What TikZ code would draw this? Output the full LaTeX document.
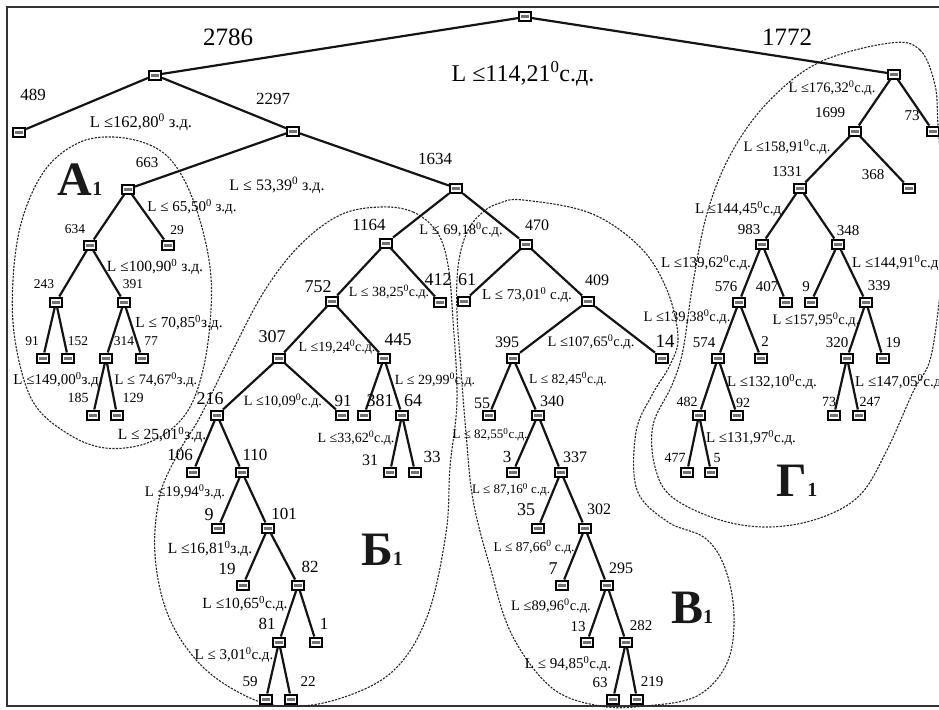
\documentclass[tikz,border=0pt]{standalone}
\usepackage{fontspec}
\setmainfont{Liberation Serif}
\newcommand{\dg}{\textsuperscript{0}}
\tikzset{
  box/.style={draw=black, line width=2pt, fill=white, minimum width=12pt, minimum height=9pt, inner sep=0pt,
    path picture={\fill[black!55] ([xshift=-4pt,yshift=-1.5pt]path picture bounding box.center) rectangle ([xshift=4pt,yshift=1.5pt]path picture bounding box.center);}},
  edge/.style={line width=2.2pt, black!92},
  zone/.style={dashed, dash pattern=on 2.2pt off 1.3pt, line width=1.1pt, black!85},
  f/.style={font=\fontsize{#1}{#1}\selectfont, inner sep=0pt, text=black},
  big/.style={inner sep=0pt, anchor=base, text=black!90},
  frame/.style={line width=2pt, black!80}
}
\newcommand{\lab}[4]{\node[f=#1] (#2) at (#3) {#4};}
\begin{document}
\begin{tikzpicture}[x=1pt,y=-1pt]
\useasboundingbox (0,0) rectangle (939,709);
\begin{scope}
\clip (0,0) rectangle (939,709);
\fill[white] (0,0) rectangle (939,709);
\draw[frame] (950,7) -- (7,7) -- (7,706) -- (950,706);

% ---- dashed zones
\draw[zone] plot[smooth cycle, tension=0.6] coordinates {(113,137) (150,145) (175,165) (195,205) (209,260) (211,310) (203,370) (185,415) (150,442) (105,448) (65,432) (32,400) (15,340) (13,280) (22,220) (45,170) (78,143)};
\draw[zone] plot[smooth cycle, tension=0.6] coordinates {(380,207) (413,212) (437,232) (448,265) (453,320) (457,400) (450,467) (446,533) (427,617) (392,672) (335,700) (280,706) (238,692) (198,662) (168,615) (155,555) (160,495) (180,450) (200,417) (233,350) (265,290) (300,245) (340,215)};
\draw[zone] plot[smooth cycle, tension=0.6] coordinates {(523,200) (590,213) (640,247) (667,290) (678,337) (670,365) (652,395) (636,432) (637,490) (668,522) (705,538) (725,568) (734,615) (727,663) (697,696) (645,706) (600,706) (552,688) (512,635) (490,567) (473,500) (466,433) (461,370) (457,313) (458,267) (467,232) (483,212) (500,203)};
\draw[zone] plot[smooth cycle, tension=0.6] coordinates {(890,43) (920,50) (935,85) (938,125) (943,200) (941,270) (939,303) (930,360) (913,392) (887,450) (860,495) (820,518) (770,527) (720,520) (672,497) (655,467) (653,425) (672,385) (683,350) (693,283) (708,210) (733,150) (770,100) (820,62)};

% ---- nodes
\node[box] (r) at (525,17) {};
\node[box] (a) at (155,75) {};
\node[box] (l489) at (19,132) {};
\node[box] (b) at (293,131) {};
\node[box] (c663) at (128,189) {};
\node[box] (c634) at (90,245) {};
\node[box] (l29) at (168,245) {};
\node[box] (c243) at (56,302) {};
\node[box] (c391) at (124,302) {};
\node[box] (l91) at (43,358) {};
\node[box] (l152) at (68,358) {};
\node[box] (c314) at (106,358) {};
\node[box] (l77) at (142,358) {};
\node[box] (l185) at (93,415) {};
\node[box] (l129) at (117,415) {};
\node[box] (d1634) at (456,188) {};
\node[box] (d1164) at (386,243) {};
\node[box] (l412) at (440,302) {};
\node[box] (d752) at (332,301) {};
\node[box] (d307) at (279,358) {};
\node[box] (d445) at (384,358) {};
\node[box] (d216) at (217,415) {};
\node[box] (l91b) at (342,415) {};
\node[box] (l381) at (364,415) {};
\node[box] (d64) at (402,415) {};
\node[box] (l31) at (390,472) {};
\node[box] (l33) at (415,472) {};
\node[box] (l106) at (193,472) {};
\node[box] (d110) at (242,472) {};
\node[box] (l9a) at (218,528) {};
\node[box] (d101) at (268,528) {};
\node[box] (l19a) at (243,585) {};
\node[box] (d82) at (298,585) {};
\node[box] (d81) at (279,642) {};
\node[box] (l1) at (316,642) {};
\node[box] (l59) at (266,699) {};
\node[box] (l22) at (291,699) {};
\node[box] (e470) at (526,244) {};
\node[box] (l61) at (464,301) {};
\node[box] (e409) at (588,301) {};
\node[box] (e395) at (513,358) {};
\node[box] (l14) at (662,358) {};
\node[box] (l55) at (489,415) {};
\node[box] (e340) at (538,415) {};
\node[box] (l3) at (513,472) {};
\node[box] (e337) at (561,472) {};
\node[box] (l35) at (538,528) {};
\node[box] (e302) at (585,528) {};
\node[box] (l7) at (562,585) {};
\node[box] (e295) at (607,585) {};
\node[box] (l13) at (587,642) {};
\node[box] (e282) at (626,642) {};
\node[box] (l63) at (613,699) {};
\node[box] (l219) at (637,699) {};
\node[box] (f1772) at (894,74) {};
\node[box] (f1699) at (855,131) {};
\node[box] (l73) at (933,131) {};
\node[box] (f1331) at (800,188) {};
\node[box] (l368) at (909,188) {};
\node[box] (f983) at (762,244) {};
\node[box] (f348) at (838,244) {};
\node[box] (f576) at (739,302) {};
\node[box] (l407) at (786,302) {};
\node[box] (l9b) at (811,302) {};
\node[box] (f339) at (866,302) {};
\node[box] (f574) at (718,358) {};
\node[box] (l2) at (761,358) {};
\node[box] (f320) at (847,358) {};
\node[box] (l19b) at (883,358) {};
\node[box] (f482) at (699,415) {};
\node[box] (l92) at (737,415) {};
\node[box] (l73b) at (834,415) {};
\node[box] (l247) at (859,415) {};
\node[box] (l477) at (687,472) {};
\node[box] (l5) at (711,472) {};

% ---- edges
\draw[edge] (r) -- (a); \draw[edge] (r) -- (f1772);
\draw[edge] (a) -- (l489); \draw[edge] (a) -- (b);
\draw[edge] (b) -- (c663); \draw[edge] (b) -- (d1634);
\draw[edge] (c663) -- (c634); \draw[edge] (c663) -- (l29);
\draw[edge] (c634) -- (c243); \draw[edge] (c634) -- (c391);
\draw[edge] (c243) -- (l91); \draw[edge] (c243) -- (l152);
\draw[edge] (c391) -- (c314); \draw[edge] (c391) -- (l77);
\draw[edge] (c314) -- (l185); \draw[edge] (c314) -- (l129);
\draw[edge] (d1634) -- (d1164); \draw[edge] (d1634) -- (e470);
\draw[edge] (d1164) -- (d752); \draw[edge] (d1164) -- (l412);
\draw[edge] (d752) -- (d307); \draw[edge] (d752) -- (d445);
\draw[edge] (d307) -- (d216); \draw[edge] (d307) -- (l91b);
\draw[edge] (d445) -- (l381); \draw[edge] (d445) -- (d64);
\draw[edge] (d64) -- (l31); \draw[edge] (d64) -- (l33);
\draw[edge] (d216) -- (l106); \draw[edge] (d216) -- (d110);
\draw[edge] (d110) -- (l9a); \draw[edge] (d110) -- (d101);
\draw[edge] (d101) -- (l19a); \draw[edge] (d101) -- (d82);
\draw[edge] (d82) -- (d81); \draw[edge] (d82) -- (l1);
\draw[edge] (d81) -- (l59); \draw[edge] (d81) -- (l22);
\draw[edge] (e470) -- (l61); \draw[edge] (e470) -- (e409);
\draw[edge] (e409) -- (e395); \draw[edge] (e409) -- (l14);
\draw[edge] (e395) -- (l55); \draw[edge] (e395) -- (e340);
\draw[edge] (e340) -- (l3); \draw[edge] (e340) -- (e337);
\draw[edge] (e337) -- (l35); \draw[edge] (e337) -- (e302);
\draw[edge] (e302) -- (l7); \draw[edge] (e302) -- (e295);
\draw[edge] (e295) -- (l13); \draw[edge] (e295) -- (e282);
\draw[edge] (e282) -- (l63); \draw[edge] (e282) -- (l219);
\draw[edge] (f1772) -- (f1699); \draw[edge] (f1772) -- (l73);
\draw[edge] (f1699) -- (f1331); \draw[edge] (f1699) -- (l368);
\draw[edge] (f1331) -- (f983); \draw[edge] (f1331) -- (f348);
\draw[edge] (f983) -- (f576); \draw[edge] (f983) -- (l407);
\draw[edge] (f348) -- (l9b); \draw[edge] (f348) -- (f339);
\draw[edge] (f576) -- (f574); \draw[edge] (f576) -- (l2);
\draw[edge] (f339) -- (f320); \draw[edge] (f339) -- (l19b);
\draw[edge] (f574) -- (f482); \draw[edge] (f574) -- (l92);
\draw[edge] (f320) -- (l73b); \draw[edge] (f320) -- (l247);
\draw[edge] (f482) -- (l477); \draw[edge] (f482) -- (l5);

% ---- top labels
\lab{25}{t2786}{228,37}{2786}
\lab{25}{t1772}{787,37}{1772}
\lab{24}{tL11421}{523,74}{L ≤114,21\dg с.д.}
\lab{17}{t489}{33,95}{489}
\lab{17}{t2297}{273,99}{2297}
\lab{16.5}{tL16280}{141,122}{L ≤162,80\dg\ з.д.}
\lab{17}{t1634}{435,159}{1634}
\lab{16}{tL5339}{277,185}{L ≤ 53,39\dg\ з.д.}

% ---- A1
\lab{15}{t663}{147,163}{663}
\lab{15}{tL6550}{192,207}{L ≤ 65,50\dg\ з.д.}
\lab{13.5}{t634}{75,229}{634}
\lab{13.5}{t29}{177,230}{29}
\lab{15.5}{tL10090}{155,267}{L ≤100,90\dg\ з.д.}
\lab{13.5}{t243}{44,284}{243}
\lab{13.5}{t391}{133,284}{391}
\lab{15.3}{tL7085}{179,323}{L ≤ 70,85\dg з.д.}
\lab{13.5}{t91}{32,341}{91}
\lab{13.5}{t152}{78,341}{152}
\lab{13.5}{t314}{124,341}{314}
\lab{13.5}{t77}{151,341}{77}
\lab{15}{tL14900}{58,380}{L ≤149,00\dg з.д.}
\lab{14.5}{tL7467}{156,380}{L ≤ 74,67\dg з.д.}
\lab{14}{t185}{78,398}{185}
\lab{14}{t129}{133,398}{129}
\lab{15.5}{tL2501}{162,435}{L ≤ 25,01\dg з.д.}
\node[big] (A1) at (80,195) {{\fontsize{48}{48}\selectfont\bfseries А}{\fontsize{20}{20}\selectfont\bfseries 1}};

% ---- B1
\lab{17}{t1164}{369,225}{1164}
\lab{14.5}{tL6918}{461,230}{L ≤ 69,18\dg с.д.}
\lab{18}{t752}{318,287}{752}
\lab{14}{tL3825}{389,292}{L ≤ 38,25\dg с.д.}
\lab{18}{t412}{438,280}{412}
\lab{18}{t61}{467,280}{61}
\lab{18}{t307}{272,337}{307}
\lab{14}{tL1924}{337,347}{L ≤19,24\dg с.д.}
\lab{18}{t445}{398,340}{445}
\lab{14}{tL2999}{435,380}{L ≤ 29,99\dg с.д.}
\lab{18}{t216}{210,399}{216}
\lab{14.2}{tL1009}{283,401}{L ≤10,09\dg с.д.}
\lab{17}{t91b}{343,401}{91}
\lab{18}{t381}{380,401}{381}
\lab{18}{t64}{413,401}{64}
\lab{14}{tL3362}{356,438}{L ≤33,62\dg с.д.}
\lab{16}{t31}{370,460}{31}
\lab{17}{t33}{432,457}{33}
\lab{17}{t106}{180,455}{106}
\lab{17}{t110}{255,455}{110}
\lab{14.7}{tL1994}{185,492}{L ≤19,94\dg з.д.}
\lab{18}{t9a}{209,515}{9}
\lab{17}{t101}{284,514}{101}
\lab{15.5}{tL1681}{210,549}{L ≤16,81\dg з.д.}
\lab{17}{t19a}{227,569}{19}
\lab{17}{t82}{310,567}{82}
\lab{15.5}{tL1065}{245,604}{L ≤10,65\dg с.д.}
\lab{17}{t81}{267,624}{81}
\lab{17}{t1}{324,624}{1}
\lab{15}{tL301}{234,655}{L ≤ 3,01\dg с.д.}
\lab{15}{t59}{250,682}{59}
\lab{15}{t22}{308,682}{22}
\node[big] (B1) at (382,565) {{\fontsize{48}{48}\selectfont\bfseries Б}{\fontsize{20}{20}\selectfont\bfseries 1}};

% ---- V1
\lab{16}{t470}{537,225}{470}
\lab{15}{tL7301}{527,295}{L ≤ 73,01\dg\ с.д.}
\lab{16}{t409}{597,280}{409}
\lab{16}{t395}{507,342}{395}
\lab{14.5}{tL10765}{591,342}{L ≤107,65\dg с.д.}
\lab{19}{t14}{665,341}{14}
\lab{13.5}{tL8245}{568,379}{L ≤ 82,45\dg с.д.}
\lab{16}{t55}{482,403}{55}
\lab{16}{t340}{552,401}{340}
\lab{13}{tL8255}{490,435}{L ≤ 82,55\dg с.д.}
\lab{17}{t3}{507,457}{3}
\lab{16}{t337}{575,457}{337}
\lab{13}{tL8716}{511,490}{L ≤ 87,16\dg\ с.д.}
\lab{18}{t35}{526,510}{35}
\lab{16}{t302}{599,509}{302}
\lab{13.5}{tL8766}{534,547}{L ≤ 87,66\dg\ с.д.}
\lab{18}{t7}{553,569}{7}
\lab{16}{t295}{621,568}{295}
\lab{14.5}{tL8996}{551,606}{L ≤89,96\dg с.д.}
\lab{15}{t13}{578,627}{13}
\lab{15}{t282}{641,626}{282}
\lab{15}{tL9485}{568,664}{L ≤ 94,85\dg с.д.}
\lab{15}{t63}{600,683}{63}
\lab{15}{t219}{652,682}{219}
\lab{14.5}{tL13938}{687,317}{L ≤139,38\dg с.д.}
\node[big] (V1) at (692,623) {{\fontsize{48}{48}\selectfont\bfseries В}{\fontsize{20}{20}\selectfont\bfseries 1}};

% ---- G1
\lab{14.5}{tL17632}{832,88}{L ≤176,32\dg с.д.}
\lab{15}{t1699}{830,113}{1699}
\lab{15}{t73}{912,116}{73}
\lab{14.5}{tL15891}{787,147}{L ≤158,91\dg с.д.}
\lab{15}{t1331}{787,172}{1331}
\lab{15}{t368}{873,175}{368}
\lab{15}{tL14445}{740,209}{L ≤144,45\dg с.д.}
\lab{15}{t983}{749,230}{983}
\lab{15}{t348}{848,231}{348}
\lab{15}{tL13962}{706,263}{L ≤139,62\dg с.д.}
\node[f=15, anchor=west] (tL14491) at (852,263) {L ≤144,91\dg с.д.};
\lab{15}{t576}{726,287}{576}
\lab{15}{t407}{767,287}{407}
\lab{15}{t9b}{806,287}{9}
\lab{15}{t339}{879,286}{339}
\lab{14.5}{tL15795}{816,320}{L ≤157,95\dg с.д.}
\lab{15}{t574}{704,343}{574}
\lab{15}{t2}{765,342}{2}
\lab{15}{t320}{837,343}{320}
\lab{15}{t19b}{893,343}{19}
\lab{15}{tL13210}{772,382}{L ≤132,10\dg с.д.}
\node[f=15, anchor=west] (tL14705) at (855,382) {L ≤147,05\dg с.д.};
\lab{14}{t482}{687,402}{482}
\lab{14}{t92}{743,403}{92}
\lab{14}{t73b}{829,402}{73}
\lab{14}{t247}{870,402}{247}
\lab{15}{tL13197}{751,438}{L ≤131,97\dg с.д.}
\lab{14}{t477}{675,458}{477}
\lab{14}{t5}{717,458}{5}
\node[big] (G1) at (797,496) {{\fontsize{48}{48}\selectfont\bfseries Г}{\fontsize{20}{20}\selectfont\bfseries 1}};
\end{scope}
\end{tikzpicture}
\end{document}
